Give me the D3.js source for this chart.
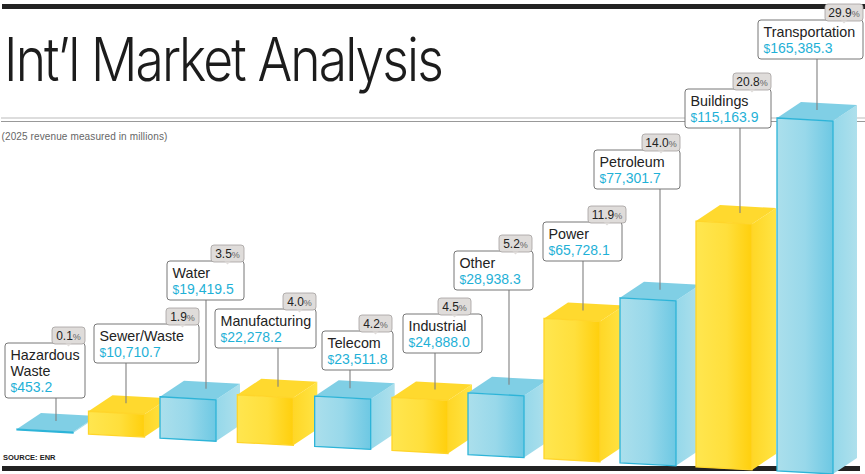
<!DOCTYPE html>
<html>
<head>
<meta charset="utf-8">
<script src="https://cdn.jsdelivr.net/npm/d3@7"></script>
<style>
    html, body { margin: 0; padding: 0; background: #fff; }
    svg { display: block; font-family: "Liberation Sans", sans-serif; }
</style>
</head>
<body>
<svg></svg>
<script>
const categories = ["Hazardous Waste", "Sewer/Waste", "Water", "Manufacturing", "Telecom", "Industrial",
    "Other", "Power", "Petroleum", "Buildings", "Transportation"];
const revenue = [453.2, 10710.7, 19419.5, 22278.2, 23511.8, 24888.0, 28938.3, 65728.1, 77301.7, 115163.9, 165385.3];
const share = [0.1, 1.9, 3.5, 4.0, 4.2, 4.5, 5.2, 11.9, 14.0, 20.8, 29.9];

const size = {w: 865, h: 474};
const svg = d3.select('svg')
    .attr('width', size.w)
    .attr('height', size.h);

// callout placement, one per bar (box left/top/width/height, leader x, badge left)
const boxX = [5, 94, 167, 215, 322, 403, 454, 543, 594, 685, 758];
const boxY = [343, 324, 261, 309, 331, 314, 251, 222, 150, 89, 20];
const boxW = [80, 105, 77, 101, 71, 79, 79, 79, 86, 86, 105];
const leaderX = [56, 126, 206, 278, 350, 435, 509, 583, 660, 740, 817];
const badgeX = [52, 166, 211, 283, 359, 438, 499, 588, 642, 733, 825];

// the bars are not quite evenly spaced in the original, so the scale has knots
const scaleX = d3.scaleLinear().domain([0, 2, 5, 9, 10]).range([17, 160, 392, 696, 777]);
// the floor runs downhill from left to right
const scaleFloor = d3.scaleLinear().domain([0, 10]).range([430, 471]);
const scaleH = d3.scaleLinear().domain([0, d3.max(revenue)]).range([0, 353]);

const faceW = 56, skew = 3, depth = {x: 24, y: -16};

const defs = svg.append('defs');
function gradient(id, stops) {
    const g = defs.append('linearGradient').attr('id', id);
    stops.forEach(s => g.append('stop').attr('offset', s[0]).attr('stop-color', s[1]));
}
gradient('yellowFront', [['0%', '#ffe64f'], ['55%', '#ffdf3c'], ['100%', '#ffcf0c']]);
gradient('yellowSide', [['0%', '#ffd726'], ['100%', '#ffe445']]);
gradient('blueFront', [['0%', '#abdfec'], ['50%', '#98d8ea'], ['100%', '#6dc8e3']]);
gradient('blueSide', [['0%', '#95d8ea'], ['100%', '#aee0ec']]);

const colors = [
    {front: 'url(#blueFront)', side: 'url(#blueSide)', top: '#80cfe5', edge: '#2db4d8'},
    {front: 'url(#yellowFront)', side: 'url(#yellowSide)', top: '#ffd92e', edge: '#ffd52a'}
];

// rules
svg.append('rect').attr('x', 2).attr('y', 4).attr('width', 863).attr('height', 5).attr('fill', '#222');
svg.append('rect').attr('x', 2).attr('y', 466).attr('width', 858).attr('height', 5).attr('fill', '#222');
svg.append('line').attr('x1', 1).attr('x2', 865).attr('y1', 118).attr('y2', 118).attr('stroke', '#bbb').attr('stroke-width', 1.2);
svg.append('line').attr('x1', 1).attr('x2', 865).attr('y1', 121.5).attr('y2', 121.5).attr('stroke', '#999').attr('stroke-width', 1);

// headings
svg.append('text')
    .attr('transform', 'translate(4, 81) scale(0.86, 1)')
    .attr('font-family', 'Inter, sans-serif').attr('font-weight', 300)
    .attr('font-size', 60).attr('letter-spacing', -2.2).attr('fill', '#1c1c1c')
    .text('Int\u2019l Market Analysis');
svg.append('text').attr('x', 1.5).attr('y', 140)
    .attr('font-size', 10).attr('letter-spacing', 0.12).attr('fill', '#666')
    .text('(2025 revenue measured in millions)');
svg.append('text').attr('x', 3).attr('y', 460)
    .attr('font-size', 7.5).attr('font-weight', 700).attr('fill', '#222')
    .text('SOURCE: ENR');

// bars
const bars = svg.append('g').selectAll('g')
    .data(revenue)
    .join('g');

function pts(list) { return list.map(p => p.join(',')).join(' '); }

bars.each(function(d, i) {
    const g = d3.select(this);
    const c = colors[i % 2];
    const x0 = scaleX(i), x1 = x0 + faceW;
    const b0 = scaleFloor(i), b1 = b0 + skew;
    const t0 = b0 - scaleH(d), t1 = t0 + skew;
    g.append('polygon')
        .attr('points', pts([[x1, t1], [x1 + depth.x, t1 + depth.y], [x1 + depth.x, b1 + depth.y], [x1, b1]]))
        .attr('fill', c.side);
    g.append('polygon')
        .attr('points', pts([[x0, t0], [x0 + depth.x, t0 + depth.y], [x1 + depth.x, t1 + depth.y], [x1, t1]]))
        .attr('fill', c.top);
    g.append('polygon')
        .attr('points', pts([[x0, t0], [x1, t1], [x1, b1], [x0, b0]]))
        .attr('fill', c.front)
        .attr('stroke', c.edge)
        .attr('stroke-width', 1.3);
});

// callouts
const fmt = d3.format(',.1f');
const callouts = svg.append('g').selectAll('g')
    .data(categories)
    .join('g');

callouts.each(function(name, i) {
    const g = d3.select(this);
    const lines = name === 'Hazardous Waste' ? ['Hazardous', 'Waste'] : [name];
    const h = 23 + lines.length * 16;
    const x = boxX[i], y = boxY[i];
    const topOfBar = scaleFloor(i) - scaleH(revenue[i]);

    g.append('line')
        .attr('x1', leaderX[i]).attr('x2', leaderX[i])
        .attr('y1', y + h).attr('y2', topOfBar - 8)
        .attr('stroke', '#808080').attr('stroke-width', 1.1);

    g.append('rect')
        .attr('x', x).attr('y', y).attr('width', boxW[i]).attr('height', h).attr('rx', 3)
        .attr('fill', '#fff').attr('stroke', '#777').attr('stroke-width', 1);

    lines.forEach((t, k) => {
        g.append('text').attr('x', x + 5.5).attr('y', y + 17 + k * 16)
            .attr('font-size', 14.3).attr('fill', '#222').text(t);
    });
    const val = g.append('text').attr('x', x + 5.5).attr('y', y + 17 + lines.length * 16)
        .attr('font-size', 14).attr('fill', '#1fb1d7');
    val.append('tspan').attr('font-size', 12).text('$');
    val.append('tspan').text(fmt(revenue[i]));

    // share badge with a little notch pointing at the box
    const bw = share[i] >= 10 ? 38 : 33, bh = 17;
    const bx = badgeX[i], by = y - bh + 1, mid = bx + bw / 2;
    g.append('rect')
        .attr('x', bx).attr('y', by).attr('width', bw).attr('height', bh).attr('rx', 3)
        .attr('fill', '#dfdcda').attr('stroke', '#a3a09e').attr('stroke-width', 0.8);
    g.append('polygon')
        .attr('points', pts([[mid - 3, by + bh - 0.5], [mid + 3, by + bh - 0.5], [mid, by + bh + 2.5]]))
        .attr('fill', '#dfdcda');
    const pct = g.append('text').attr('x', mid).attr('y', by + 12.8)
        .attr('text-anchor', 'middle').attr('font-size', 12).attr('fill', '#222');
    pct.append('tspan').text(share[i].toFixed(1));
    pct.append('tspan').attr('font-size', 9).attr('fill', '#666').text('%');
});
</script>
</body>
</html>
